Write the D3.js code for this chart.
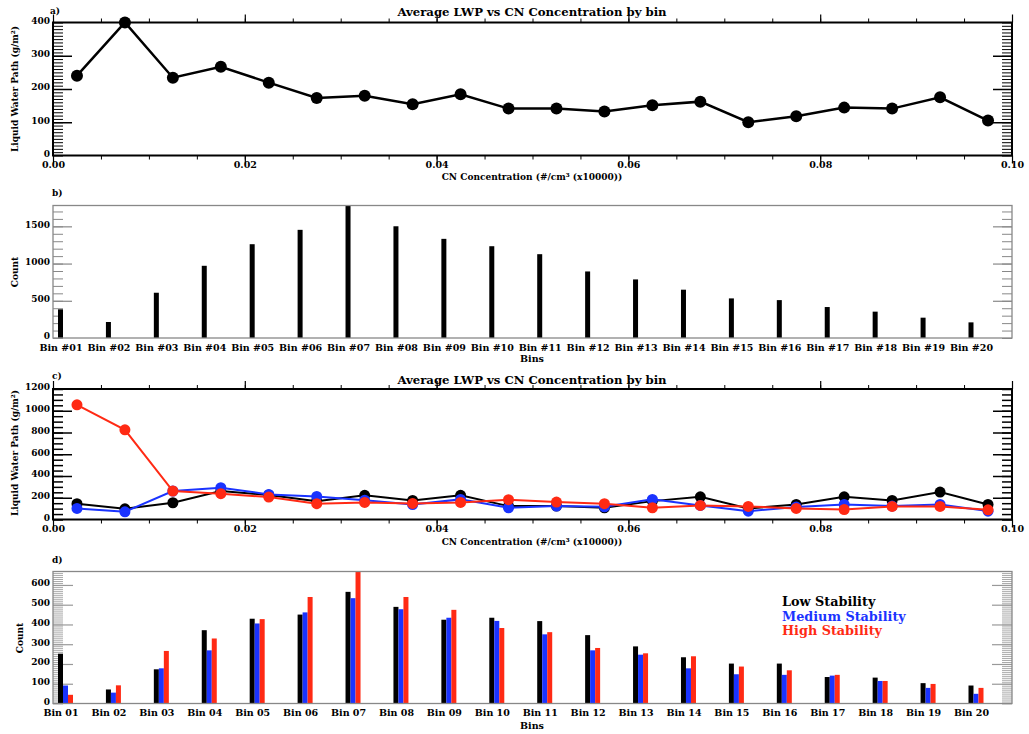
<!DOCTYPE html>
<head>
<meta charset="utf-8">
<script src="https://d3js.org/d3.v7.min.js"></script>
<style>
  body { margin: 0; background: white; }
  svg text { font-family: "DejaVu Serif", "Liberation Serif", serif; font-weight: bold; fill: black; }
</style>
</head>
<body>
<script>
// bin centres on the CN axis (x10000 #/cm3)
var cnBins = [0.0025, 0.0075, 0.0125, 0.0175, 0.0225, 0.0275, 0.0325, 0.0375, 0.0425, 0.0475,
              0.0525, 0.0575, 0.0625, 0.0675, 0.0725, 0.0775, 0.0825, 0.0875, 0.0925, 0.0975];

// panel a: average LWP, all cases
var lwpAll = [240, 400, 234, 267, 219, 173, 180, 154, 184, 141, 141, 132, 151, 162, 100, 118, 144, 141, 175, 105];

// panel b: counts, all cases
var binLabelsB = ["Bin #01", "Bin #02", "Bin #03", "Bin #04", "Bin #05", "Bin #06", "Bin #07", "Bin #08", "Bin #09", "Bin #10",
                  "Bin #11", "Bin #12", "Bin #13", "Bin #14", "Bin #15", "Bin #16", "Bin #17", "Bin #18", "Bin #19", "Bin #20"];
var countAll = [385, 215, 608, 970, 1260, 1453, 1780, 1501, 1332, 1233, 1126, 894, 787, 649, 532, 509, 416, 354, 273, 210];

// panel c: LWP by stability
var lwpLow  = [145, 98, 154, 262, 225, 169, 222, 175, 222, 123, 123, 108, 169, 209, 102, 138, 209, 175, 252, 138];
var lwpMed  = [102, 71, 262, 292, 231, 212, 178, 138, 185, 108, 123, 117, 185, 129, 77, 114, 138, 123, 138, 77];
var lwpHigh = [1055, 825, 262, 237, 206, 145, 157, 148, 157, 182, 160, 145, 108, 129, 120, 102, 92, 120, 120, 89];

// panel d: counts by stability
var binLabelsD = ["Bin 01", "Bin 02", "Bin 03", "Bin 04", "Bin 05", "Bin 06", "Bin 07", "Bin 08", "Bin 09", "Bin 10",
                  "Bin 11", "Bin 12", "Bin 13", "Bin 14", "Bin 15", "Bin 16", "Bin 17", "Bin 18", "Bin 19", "Bin 20"];
var countLow  = [252, 71, 173, 371, 429, 450, 565, 489, 424, 434, 417, 346, 289, 234, 202, 202, 134, 131, 103, 91];
var countMed  = [91, 55, 178, 269, 405, 461, 533, 477, 434, 418, 350, 269, 247, 178, 148, 145, 141, 114, 79, 49];
var countHigh = [44, 92, 266, 329, 427, 539, 668, 539, 474, 382, 361, 281, 254, 239, 187, 168, 145, 114, 99, 79];

var stabNames = ["Low Stability", "Medium Stability", "High Stability"];
var stabColors = ["#000000", "#1a33ff", "#ff2a14"];

var W = 1029, H = 734;
var x0 = 53, x1 = 1012;

var svg = d3.select("body").append("svg").attr("width", W).attr("height", H);

var xCN = d3.scaleLinear().domain([0, 0.1]).range([x0, x1]);
var xBin = d3.scalePoint().domain(binLabelsB).range([60.5, 971]);
var xBinD = d3.scalePoint().domain(binLabelsD).range([60.5, 971]);

function range(a, b, s) { return d3.range(a, b + s / 2, s); }

// inward ticks on left and right side of a panel
function sideTicks(y, values, len, color, width) {
  svg.append("g").attr("transform", "translate(" + x0 + ",0)")
    .call(d3.axisLeft(y).tickValues(values).tickSize(-len).tickFormat(""))
    .call(function(g) {
      g.select(".domain").remove();
      g.selectAll("line").attr("stroke", color).attr("stroke-width", width);
    });
  svg.append("g").attr("transform", "translate(" + x1 + ",0)")
    .call(d3.axisRight(y).tickValues(values).tickSize(-len).tickFormat(""))
    .call(function(g) {
      g.select(".domain").remove();
      g.selectAll("line").attr("stroke", color).attr("stroke-width", width);
    });
}

function yLabels(y, values) {
  svg.append("g").attr("transform", "translate(" + x0 + ",0)")
    .call(d3.axisLeft(y).tickValues(values).tickSize(0).tickPadding(3).tickFormat(d3.format("d")))
    .call(function(g) {
      g.select(".domain").remove();
      g.selectAll("text").style("font-size", "9px").attr("dy", "0.1em");
    });
}

function cnAxis(top, bottom) {
  var minor = range(0, 0.1, 0.005), major = range(0, 0.1, 0.02);
  [[d3.axisBottom, top], [d3.axisTop, bottom]].forEach(function(a) {
    svg.append("g").attr("transform", "translate(0," + a[1] + ")")
      .call(a[0](xCN).tickValues(minor).tickSize(-4).tickFormat(""))
      .call(function(g) { g.select(".domain").remove(); g.selectAll("line").attr("stroke-width", 1); });
    svg.append("g").attr("transform", "translate(0," + a[1] + ")")
      .call(a[0](xCN).tickValues(major).tickSize(-8).tickFormat(""))
      .call(function(g) { g.select(".domain").remove(); g.selectAll("line").attr("stroke-width", 1.2); });
  });
  svg.append("g").attr("transform", "translate(0," + bottom + ")")
    .call(d3.axisBottom(xCN).tickValues(major).tickSize(0).tickPadding(6).tickFormat(d3.format(".2f")))
    .call(function(g) {
      g.select(".domain").remove();
      g.selectAll("text").style("font-size", "9.5px");
    });
}

function frame(top, bottom, color, width) {
  svg.append("rect").attr("x", x0).attr("y", top).attr("width", x1 - x0).attr("height", bottom - top)
    .attr("fill", "none").attr("stroke", color).attr("stroke-width", width);
}

function text(x, y, s, size, anchor, color) {
  return svg.append("text").attr("x", x).attr("y", y).text(s)
    .style("font-size", size + "px").attr("text-anchor", anchor || "start")
    .style("fill", color || "black");
}

function yTitle(x, y, s) {
  svg.append("text").attr("transform", "translate(" + x + "," + y + ") rotate(-90)")
    .attr("text-anchor", "middle").style("font-size", "9px").text(s);
}

var line = function(y) {
  return d3.line().x(function(d, i) { return xCN(cnBins[i]); }).y(function(d) { return y(d); });
};

// ---------------- panel a ----------------
var ya = d3.scaleLinear().domain([0, 400]).range([155.5, 22.5]);
sideTicks(ya, range(0, 400, 10), 10, "black", 1);
sideTicks(ya, [100, 200, 300], 19, "black", 1.5);
yLabels(ya, range(0, 400, 100));
cnAxis(22.5, 155.5);
svg.append("path").datum(lwpAll).attr("d", line(ya))
  .attr("fill", "none").attr("stroke", "black").attr("stroke-width", 2.5);
svg.selectAll(".pa").data(lwpAll).enter().append("circle")
  .attr("cx", function(d, i) { return xCN(cnBins[i]); })
  .attr("cy", function(d) { return ya(d); })
  .attr("r", 6).attr("fill", "black");
frame(22.5, 155.5, "black", 2);
text(532, 16, "Average LWP vs CN Concentration by bin", 11.7, "middle");
text(50, 14, "a)", 9);
text(532, 180, "CN Concentration (#/cm\u00b3 (x10000))", 9, "middle");
yTitle(18, 89, "Liquid Water Path (g/m\u00b2)");

// ---------------- panel b ----------------
var yb = d3.scaleLinear().domain([0, 1780]).range([338, 205.5]);
sideTicks(yb, range(0, 1700, 100), 10, "#888", 1);
sideTicks(yb, [500, 1000, 1500], 19, "#888", 1.2);
yLabels(yb, [0, 500, 1000, 1500]);
svg.selectAll(".bb").data(countAll).enter().append("rect")
  .attr("x", function(d, i) { return xBin(binLabelsB[i]) - 2.5; })
  .attr("y", function(d) { return yb(d); })
  .attr("width", 5)
  .attr("height", function(d) { return yb(0) - yb(d); })
  .attr("fill", "black");
frame(205.5, 338, "#888", 1.3);
svg.append("g").attr("transform", "translate(0,338)")
  .call(d3.axisBottom(xBin).tickSize(0).tickPadding(6))
  .call(function(g) { g.select(".domain").remove(); g.selectAll("text").style("font-size", "9.5px"); });
text(532, 362, "Bins", 9.5, "middle");
text(52, 196, "b)", 9);
yTitle(18, 272, "Count");

// ---------------- panel c ----------------
var yc = d3.scaleLinear().domain([0, 1200]).range([519.5, 389]);
sideTicks(yc, range(0, 1200, 50), 10, "black", 1.5);
sideTicks(yc, range(200, 1000, 200), 19, "black", 1.5);
yLabels(yc, range(0, 1200, 200));
cnAxis(389, 519.5);
[lwpLow, lwpMed, lwpHigh].forEach(function(series, k) {
  svg.append("path").datum(series).attr("d", line(yc))
    .attr("fill", "none").attr("stroke", stabColors[k]).attr("stroke-width", 2);
  svg.selectAll(".pc" + k).data(series).enter().append("circle")
    .attr("cx", function(d, i) { return xCN(cnBins[i]); })
    .attr("cy", function(d) { return yc(d); })
    .attr("r", 5.5).attr("fill", stabColors[k]);
});
frame(389, 519.5, "black", 2);
text(532, 384, "Average LWP vs CN Concentration by bin", 11.7, "middle");
text(52, 379, "c)", 9);
text(532, 545, "CN Concentration (#/cm\u00b3 (x10000))", 9, "middle");
yTitle(18, 453, "Liquid Water Path (g/m\u00b2)");

// ---------------- panel d ----------------
var yd = d3.scaleLinear().domain([0, 668]).range([703.5, 571.5]);
sideTicks(yd, range(0, 660, 10), 10, "#aaa", 1);
sideTicks(yd, range(100, 600, 100), 20, "#999", 1.2);
yLabels(yd, range(0, 600, 100));
[countLow, countMed, countHigh].forEach(function(series, k) {
  svg.selectAll(".bd" + k).data(series).enter().append("rect")
    .attr("x", function(d, i) { return xBinD(binLabelsD[i]) - 2.5 + 5 * k; })
    .attr("y", function(d) { return yd(d); })
    .attr("width", 5)
    .attr("height", function(d) { return yd(0) - yd(d); })
    .attr("fill", stabColors[k]);
});
frame(571.5, 703.5, "#888", 1.3);
svg.append("g").attr("transform", "translate(0,703.5)")
  .call(d3.axisBottom(xBinD).tickSize(0).tickPadding(6))
  .call(function(g) { g.select(".domain").remove(); g.selectAll("text").style("font-size", "9.5px"); });
text(532, 729, "Bins", 9.5, "middle");
text(52, 563, "d)", 9);
yTitle(23, 638, "Count");
stabNames.forEach(function(s, k) {
  text(782, 606 + 14.5 * k, s, 12.8, "start", stabColors[k]);
});
</script>
</body>
